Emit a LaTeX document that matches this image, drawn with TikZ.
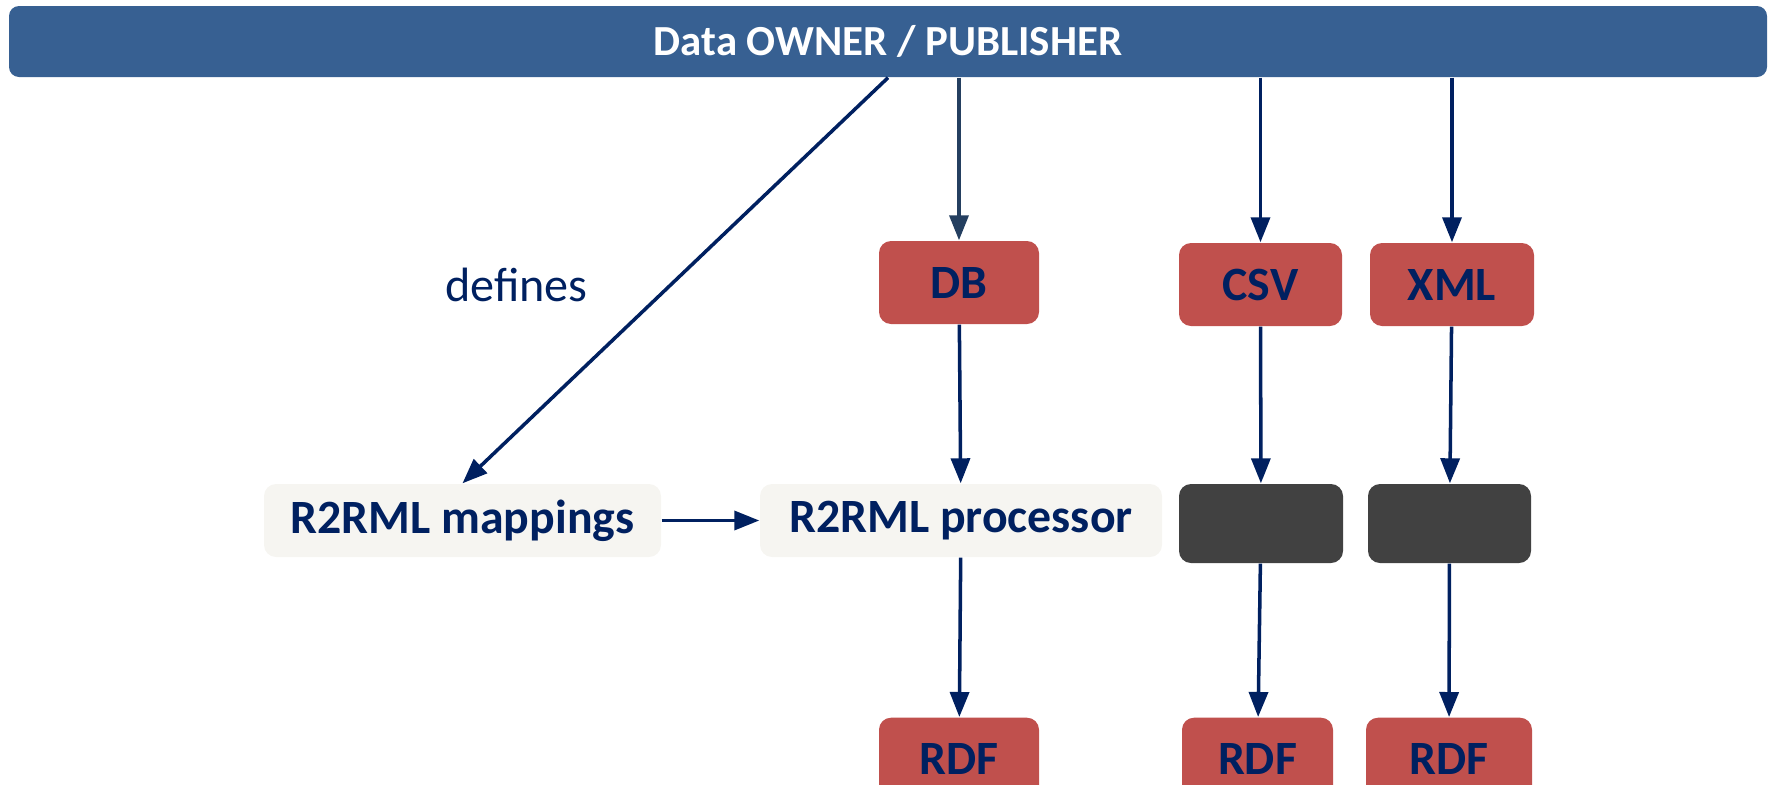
\documentclass[tikz,border=0pt]{standalone}
\usepackage{fontspec}
\setmainfont{Carlito}
\usepackage{tikz}
\usetikzlibrary{arrows.meta, positioning}

\definecolor{barblue}{HTML}{376092}
\definecolor{boxred}{HTML}{C0504D}
\definecolor{navy}{HTML}{002060}
\definecolor{paper}{HTML}{F6F5F1}
\definecolor{darkbox}{HTML}{414141}
\definecolor{slate}{HTML}{243F60}

\begin{document}
\begin{tikzpicture}[>={Triangle[length=0.25cm,width=0.19cm]},
	fmt/.style={rounded corners=0.12cm, font=\fontsize{13.6}{16}\selectfont\bfseries, text=navy},
	fmtbox/.style={fmt, fill=boxred, minimum width=1.6cm, minimum height=0.83cm},
	procbox/.style={fmt, fill=paper, minimum height=0.73cm},
	blackbox/.style={rounded corners=0.12cm, fill=darkbox, minimum width=1.64cm, minimum height=0.79cm},
	arr/.style={->, navy, line width=1pt}]
		
		\useasboundingbox (0,0) rectangle (17.74,7.84);
		
		% Owner bar across the top
		\node[fill=barblue, rounded corners=0.1cm, minimum width=17.58cm, minimum height=0.71cm,
			text=white, font=\fontsize{12.2}{14}\selectfont\bfseries] (owner) at (8.88,7.425) {Data OWNER / PUBLISHER};
		
		% Source formats
		\node[fmtbox] (db) at (9.59,5.015) {DB};
		\node[fmtbox, minimum width=1.63cm] (csv) at (12.605,4.995) {CSV};
		\node[fmtbox, minimum width=1.64cm] (xml) at (14.52,4.995) {XML};
		
		% Mapping and processing
		\node[procbox, minimum width=3.97cm] (map) at (4.625,2.635) {R2RML mappings};
		\node[procbox, minimum width=4.02cm] (proc) at (9.61,2.635) {R2RML processor};
		\node[blackbox] (conv1) at (12.61,2.605) {};
		\node[blackbox, minimum width=1.63cm] (conv2) at (14.495,2.605) {};
		
		% Output (cut at the lower edge)
		\node[fmtbox, anchor=north] (rdf1) at (9.59,0.67) {RDF};
		\node[fmtbox, anchor=north, minimum width=1.51cm] (rdf2) at (12.575,0.67) {RDF};
		\node[fmtbox, anchor=north, minimum width=1.66cm] (rdf3) at (14.49,0.67) {RDF};
		
		% Owner arrows
		\draw[arr] (owner.south) -- (map.north) node[pos=0.512, left=0.69cm, font=\fontsize{13.7}{16}\selectfont] {defines};
		\draw[arr, slate] (owner.south -| db) -- (db);
		\draw[arr] (owner.south -| csv) -- (csv);
		\draw[arr] (owner.south -| xml) -- (xml);
		
		% Flow down to RDF
		\draw[arr] (db) -- (proc);
		\draw[arr] (csv) -- (conv1);
		\draw[arr] (xml) -- (conv2);
		\draw[arr] (map) -- (proc);
		\draw[arr] (proc) -- (rdf1);
		\draw[arr] (conv1) -- (rdf2);
		\draw[arr] (conv2) -- (rdf3);
		
\end{tikzpicture}
\end{document}
